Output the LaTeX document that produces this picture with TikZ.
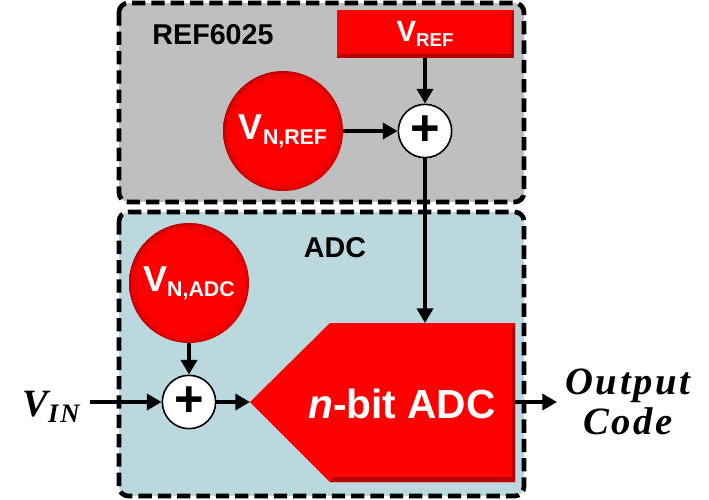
\documentclass[tikz,border=0pt]{standalone}
\usepackage{fontspec}
\setmainfont{Liberation Sans}
\newfontfamily\cambriaish[LetterSpace=7]{Liberation Serif}
\usetikzlibrary{arrows.meta}
\pgfdeclareradialshading{redball}{\pgfpointorigin}{color(0bp)=(red); color(21bp)=(red); color(24bp)=(red!90!black); color(25bp)=(red!72!black); color(50bp)=(red!72!black)}
\newcommand{\volt}[4]{\raisebox{#4}{\fontsize{#1}{#1}\selectfont\textbf{V}\raisebox{-4pt}{\fontsize{#2}{#2}\selectfont\textbf{#3}}}}
\definecolor{bevelred}{rgb}{0.72,0,0}
\tikzset{
  groupbox/.style={draw=black,line width=3.5pt,dash pattern={on 10pt off 4.5pt},rounded corners=7pt},
  noisenode/.style={circle,minimum size=90pt,inner sep=0pt,shading=redball,text=white},
  sumnode/.style={circle,draw=black,line width=1.2pt,fill=white,minimum size=40pt,inner sep=0pt,font=\fontsize{38}{38}\selectfont\bfseries},
  signal/.style={line width=3.4pt,-{Triangle[length=11pt,width=12pt]}},
  boxlabel/.style={font=\fontsize{21.5}{21.5}\selectfont\bfseries},
}
\begin{document}
\begin{tikzpicture}[x=0.75pt,y=-0.75pt]
\useasboundingbox (0,0) rectangle (709,499);

%Group boxes
\draw [groupbox,fill={rgb,255:red,191;green,191;blue,191}] (119,3) rectangle (524,202);
\draw [groupbox,fill={rgb,255:red,186;green,216;blue,222}] (119,212) rectangle (524,496);

%ADC block
\coordinate (adcin) at (250,402);
\coordinate (adctop) at (425,323);
\coordinate (adcout) at (515,402);
\fill [red] (adcin) -- (330,323) -- (515,323) -- (515,482) -- (330,482) -- cycle;
\fill [bevelred] (330,482) -- (515,482) -- (515,323) -- (512,326) -- (512,477) -- (334,477) -- cycle;
\coordinate (outend) at (557,402);
\coordinate (vinend) at (90,402);

%Blocks
\node [rectangle,fill=red,minimum width=132.75pt,minimum height=36pt,inner sep=0pt,text=white] (vref) at (425,34) {\volt{22}{14}{REF}{-2.5pt}};
\fill [bevelred] (336.5,58) -- (513.5,58) -- (513.5,11) -- (511,13) -- (511,54) -- (339,54) -- cycle;
\node [noisenode] (nref) at (283,131) {\volt{27}{16}{N,REF}{-2pt}};
\node [noisenode] (nadc) at (189,283) {\volt{27}{16}{N,ADC}{-1pt}};
\node [sumnode] (sumref) at (425,131) {+};
\node [sumnode] (sumadc) at (189,402) {+};

%Arrows
\draw [signal] (vref) -- (sumref);
\draw [signal] (nref) -- (sumref);
\draw [signal] (sumref) -- (adctop);
\draw [signal] (nadc) -- (sumadc);
\draw [signal] (vinend) -- (sumadc);
\draw [signal] (sumadc) -- (adcin);
\draw [signal] (adcout) -- (outend);

% Text Node
\node [boxlabel] (reflabel) at (213,35) {REF6025};
% Text Node
\node [boxlabel] (adclabel) at (335,248) {ADC};
% Text Node
\node [text=white,font=\fontsize{30.5}{30.5}\selectfont\bfseries] (adctext) at (402,404) {\textit{n}-bit ADC};
% Text Node
\node [font=\cambriaish\fontsize{29}{29}\selectfont\bfseries\itshape] (vin) at (51,407) {V\raisebox{-5pt}{\fontsize{20}{20}\selectfont IN}};
% Text Node
\node [align=center,font=\cambriaish\fontsize{29}{30}\selectfont\bfseries\itshape] (output) at (628,402) {Output\\Code};
\end{tikzpicture}
\end{document}
